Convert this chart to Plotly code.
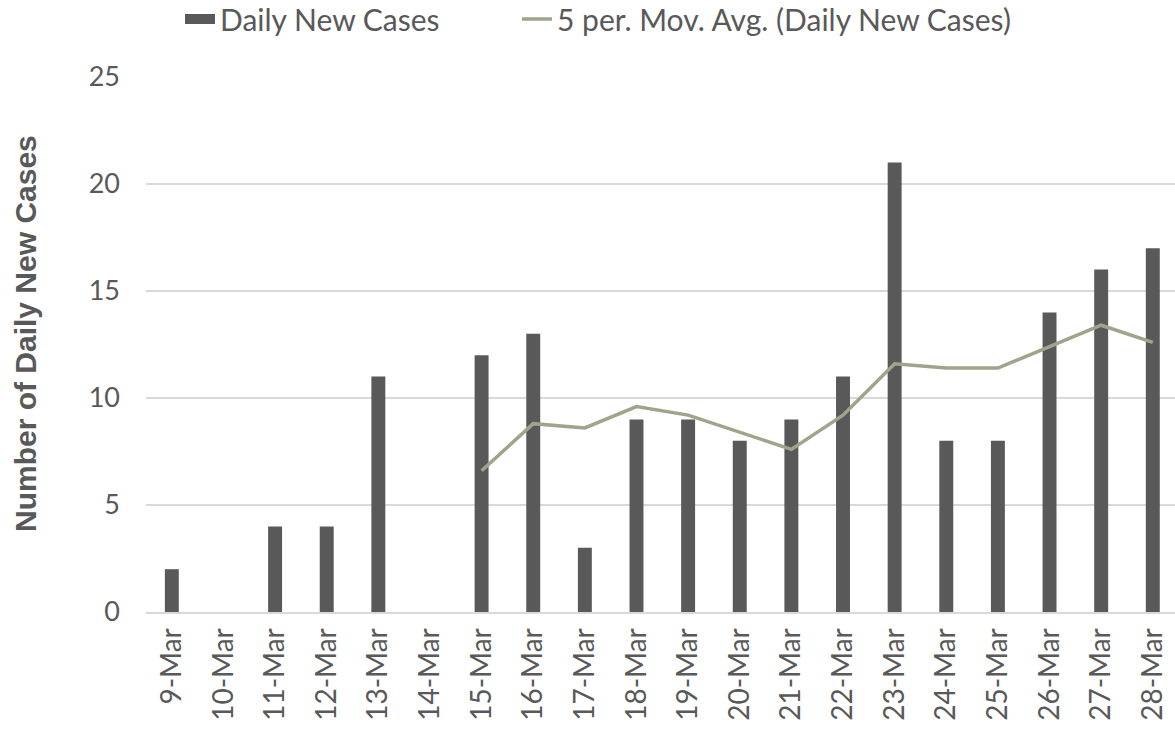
import plotly.graph_objects as go

dates = ["9-Mar", "10-Mar", "11-Mar", "12-Mar", "13-Mar", "14-Mar", "15-Mar", "16-Mar",
         "17-Mar", "18-Mar", "19-Mar", "20-Mar", "21-Mar", "22-Mar", "23-Mar", "24-Mar",
         "25-Mar", "26-Mar", "27-Mar", "28-Mar"]
daily_new_cases = [2, None, 4, 4, 11, None, 12, 13, 3, 9, 9, 8, 9, 11, 21, 8, 8, 14, 16, 17]
mov_avg = [None, None, None, None, None, None, 6.6, 8.8, 8.6, 9.6, 9.2, 8.4, 7.6, 9.2,
           11.6, 11.4, 11.4, 12.4, 13.4, 12.6]
y_ticks = [0, 5, 10, 15, 20, 25]

FONT = "Lato"
TXT = "#595959"
BAR_C = "#595959"
LINE_C = "#9EA58A"

W, H = 1175, 731
ML, MR, MT, MB = 146, 0, 77, 731 - 612
PW = W - ML - MR
PH = H - MT - MB

fig = go.Figure()
fig.add_trace(go.Bar(
    x=dates, y=daily_new_cases, name="Daily New Cases", showlegend=False,
    marker=dict(color=BAR_C, line=dict(width=0)), width=0.27,
))
# legend swatch for the bars (wide rectangle like the original)
fig.add_trace(go.Scatter(
    x=[None], y=[None], name="Daily New Cases", mode="lines",
    line=dict(color=BAR_C, width=15), legend="legend", showlegend=True,
))
fig.add_trace(go.Scatter(
    x=dates, y=mov_avg, name="5 per. Mov. Avg. (Daily New Cases)",
    mode="lines", line=dict(color=LINE_C, width=3.5), connectgaps=False,
    legend="legend2", showlegend=True,
))

leg_common = dict(orientation="h", yref="container", y=1 - 19 / H, yanchor="middle",
                  xanchor="left", font=dict(family=FONT, size=30, color=TXT),
                  bgcolor="rgba(0,0,0,0)", borderwidth=0, itemwidth=30)

fig.update_layout(
    width=W, height=H,
    margin=dict(l=ML, r=MR, t=MT, b=MB, autoexpand=False),
    paper_bgcolor="white", plot_bgcolor="white",
    font=dict(family=FONT, size=22, color=TXT),
    showlegend=True,
    legend=dict(x=(180 - ML) / PW, **leg_common),
    legend2=dict(x=(517 - ML) / PW, **leg_common),
    annotations=[dict(
        text="<b>Number of Daily New Cases</b>", xref="paper", yref="paper",
        x=(25 - ML) / PW, y=(612 - 334) / PH, xanchor="center", yanchor="middle",
        textangle=-90, showarrow=False,
        font=dict(family="Liberation Sans", size=30, color=TXT),
    )],
)
fig.update_xaxes(
    type="category", range=[-0.5, 19.43], tickangle=-90, showgrid=False, showline=True,
    linecolor="#D9D9D9", linewidth=2, ticks="", automargin=False, ticklabelstandoff=3,
    tickfont=dict(family=FONT, size=28, color=TXT),
)
fig.update_yaxes(
    range=[0, 25], tickvals=y_ticks, showgrid=True, gridcolor="#D9D9D9", gridwidth=2,
    zeroline=False, showline=False, ticks="", ticklabelstandoff=25, automargin=False,
    tickfont=dict(family=FONT, size=27, color=TXT),
)

fig.write_html("out.html", config={"displayModeBar": False},
               post_script="document.body.style.margin='0px';document.body.style.overflow='hidden';")
